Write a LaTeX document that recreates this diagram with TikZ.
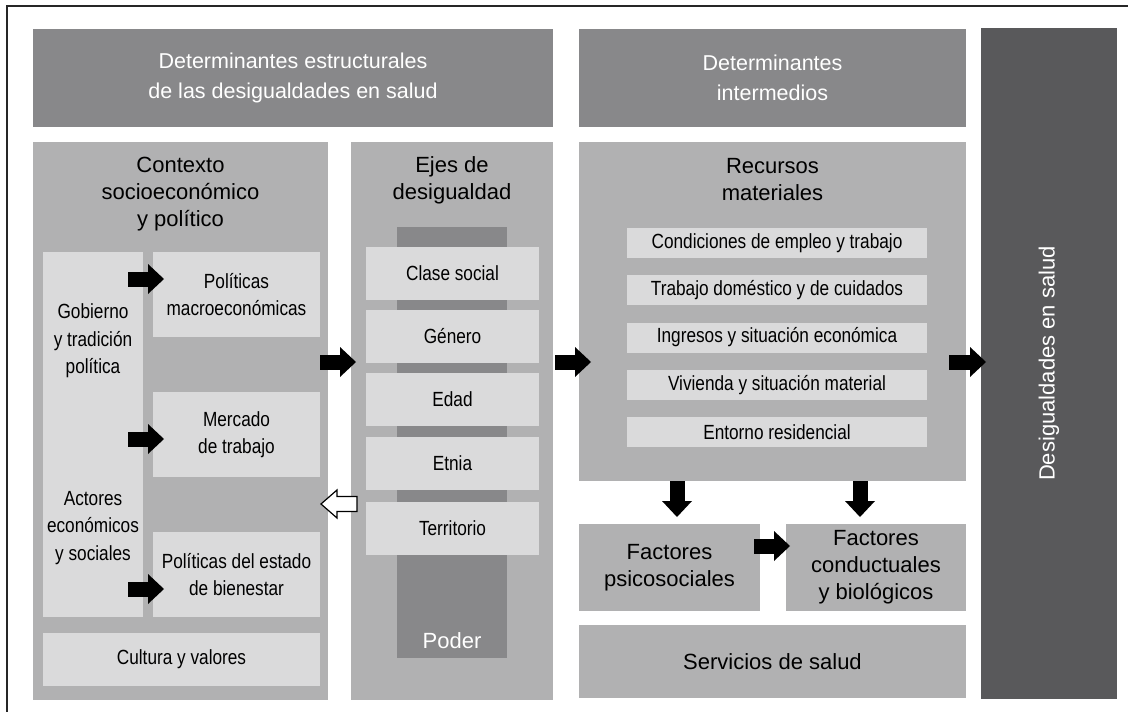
\documentclass[tikz,border=0pt]{standalone}
\usepackage{fontspec}
\setmainfont{Liberation Sans}
\newfontfamily\narrowf[FakeStretch=0.84]{Liberation Sans}
\usetikzlibrary{calc,arrows.meta}
\definecolor{hdr}{HTML}{88888A}
\definecolor{mid}{HTML}{B1B1B2}
\definecolor{lite}{HTML}{DADADB}
\definecolor{dark}{HTML}{59595B}
\newcommand\hdrf{\fontsize{21.5}{30}\selectfont}
\newcommand\titlef{\fontsize{22}{27}\selectfont}
\newcommand\narf{\narrowf\fontsize{20.5}{27.5}\selectfont}
\begin{document}
\begin{tikzpicture}[x=1pt,y=-1pt,
  every node/.style={inner sep=0pt, outer sep=0pt},
  hdrbox/.style={fill=hdr, text=white, font=\hdrf, align=center},
  midbox/.style={fill=mid},
  litebox/.style={fill=lite, font=\narf, align=center},
  narrow/.style={font=\narf, align=center},
  title/.style={font=\titlef, align=center},
  ejesitem/.style={litebox, minimum width=173pt, minimum height=53pt},
  recitem/.style={litebox, minimum width=300pt, minimum height=30pt},
  ctxitem/.style={litebox, minimum width=167pt, minimum height=85pt},
  barrow/.style={line width=15pt, -{Triangle[width=30pt,length=16pt,line width=0pt]}},
  hollow/.style={line width=1.2pt, fill=white, draw=black, line join=miter}]
\useasboundingbox (0,0) rectangle (1128,712);
\fill[white] (0,0) rectangle (1128,712);
\draw[line width=2pt, black!85] (7,712) -- (7,6) -- (1128,6);

% headers and outcome column
\node[hdrbox, minimum width=520pt, minimum height=98pt] (h1) at (293,78) {Determinantes estructurales\\de las desigualdades en salud};
\node[hdrbox, minimum width=387pt, minimum height=98pt] (h2) at (772.5,78) {Determinantes\\intermedios};
\node[fill=dark, minimum width=136pt, minimum height=671pt] (dc) at (1049,363.5) {};
\node[rotate=90, text=white, font=\titlef] (dct) at (dc.center) {Desigualdades en salud};

% contexto
\node[midbox, minimum width=295pt, minimum height=558pt] (ctx) at (180.5,421) {};
\node[title] (ctxt) at (180.5,194) {Contexto\\socioeconómico\\y político};
\node[litebox, minimum width=100pt, minimum height=365pt] (lc) at (93,434.5) {};
\node[narrow] (gob) at (93,341) {Gobierno\\y tradición\\política};
\node[narrow] (act) at (93,528) {Actores\\económicos\\y sociales};
\node[ctxitem] (mac) at (236.5,294.5) {Políticas\\macroeconómicas};
\node[ctxitem] (mer) at (236.5,434.5) {Mercado\\de trabajo};
\node[ctxitem] (bie) at (236.5,574.5) {Políticas del estado\\de bienestar};
\node[litebox, minimum width=277pt, minimum height=53pt] (cul) at (181.5,659.5) {Cultura y valores};

% ejes
\node[midbox, minimum width=202pt, minimum height=558pt] (ejes) at (452,421) {};
\node[title] (ejest) at (452,180) {Ejes de\\desigualdad};
\node[fill=hdr, minimum width=110pt, minimum height=431pt] (pw) at (452,442.5) {};
\node[text=white, font=\titlef] (pwt) at ($(pw.south)+(0,-17)$) {Poder};
\node[ejesitem] (e1) at (452.5,273.5) {Clase social};
\node[ejesitem] (e2) at (452.5,336.5) {Género};
\node[ejesitem] (e3) at (452.5,399.5) {Edad};
\node[ejesitem] (e4) at (452.5,463.5) {Etnia};
\node[ejesitem] (e5) at (452.5,528.5) {Territorio};

% recursos
\node[midbox, minimum width=387pt, minimum height=339pt] (rec) at (772.5,311.5) {};
\node[title] (rect) at (772.5,179.5) {Recursos\\materiales};
\node[recitem] (r1) at (777,243) {Condiciones de empleo y trabajo};
\node[recitem] (r2) at (777,290) {Trabajo doméstico y de cuidados};
\node[recitem] (r3) at (777,337.5) {Ingresos y situación económica};
\node[recitem] (r4) at (777,385) {Vivienda y situación material};
\node[recitem] (r5) at (777,432) {Entorno residencial};
\node[midbox, title, minimum width=181pt, minimum height=87pt] (psi) at (669.5,567.5) {Factores\\psicosociales};
\node[midbox, title, minimum width=180pt, minimum height=87pt] (con) at (876,567.5) {Factores\\conductuales\\y biológicos};
\node[midbox, title, minimum width=387pt, minimum height=73pt] (ser) at (772.5,661.5) {Servicios de salud};

% arrows
\draw[barrow] ($(lc.east |- mac.center)+(-15,-15.5)$) -- ($(mac.west)+(11,-15.5)$);
\draw[barrow] ($(lc.east |- mer.center)+(-15,4.5)$) -- ($(mer.west)+(11,4.5)$);
\draw[barrow] ($(lc.east |- bie.center)+(-15,14.5)$) -- ($(bie.west)+(11,14.5)$);
\draw[barrow] ($(ctx.east)+(-8,-59)$) -- ($(ejes.west)+(5,-59)$);
\draw[barrow] ($(ejes.east)+(2,-59)$) -- ($(rec.west |- ejes.east)+(12,-59)$);
\draw[barrow] ($(rec.east |- ejes.east)+(-17,-59)$) -- ($(dc.west |- ejes.east)+(5,-59)$);
\draw[barrow] ($(rec.south -| psi.north)+(7.5,0)$) -- ($(psi.north)+(7.5,-7)$);
\draw[barrow] ($(rec.south -| con.north)+(-16,0)$) -- ($(con.north)+(-16,-7)$);
\draw[barrow] ($(psi.east)+(-6,-21.5)$) -- ($(con.west)+(4,-21.5)$);
\coordinate (ht) at ($(ctx.east)+(-7,83)$);
\coordinate (hs) at ($(ejes.west)+(6,83)$);
\draw[hollow] ($(hs)+(0,-7.5)$) -- ($(ht)+(16,-7.5)$) -- ($(ht)+(16,-14)$) -- (ht) -- ($(ht)+(16,14)$) -- ($(ht)+(16,7.5)$) -- ($(hs)+(0,7.5)$) -- cycle;
\end{tikzpicture}
\end{document}
